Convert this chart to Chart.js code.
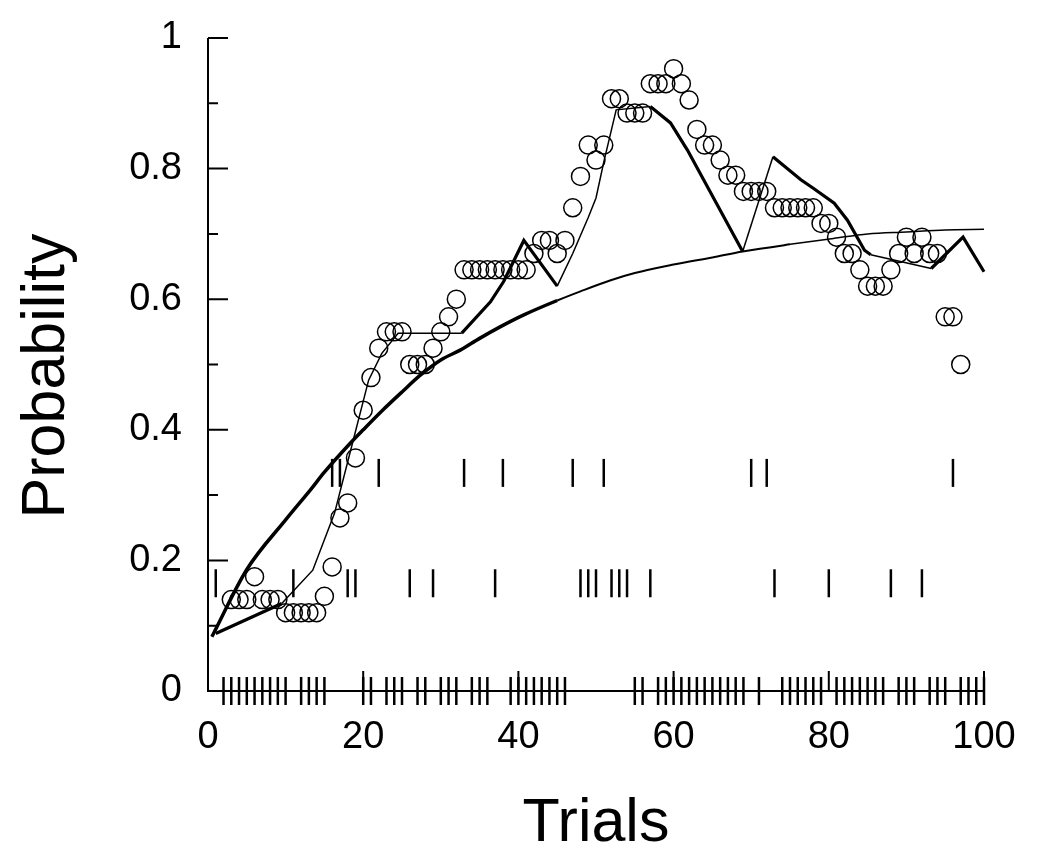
<!DOCTYPE html>
<html>
<head>
<meta charset="utf-8">
<script src="https://cdn.jsdelivr.net/npm/chart.js@4/dist/chart.umd.min.js"></script>
<style>
  html, body { margin: 0; padding: 0; background: #fff; }
  #wrap { width: 1050px; height: 867px; }
</style>
</head>
<body>
<div id="wrap"><canvas id="probChart"></canvas></div>
<script>
// observed proportion per trial (open circles)
const circleTrials = [3, 4, 5, 6, 7, 8, 9, 10, 11, 12, 13, 14, 15, 16, 17, 18, 19, 20, 21, 22, 23, 24, 25,
  26, 27, 28, 29, 30, 31, 32, 33, 34, 35, 36, 37, 38, 39, 40, 41, 42, 43, 44, 45, 46, 47, 48, 49, 50,
  51, 52, 53, 54, 55, 56, 57, 58, 59, 60, 61, 62, 63, 64, 65, 66, 67, 68, 69, 70, 71, 72, 73, 74, 75,
  76, 77, 78, 79, 80, 81, 82, 83, 84, 85, 86, 87, 88, 89, 90, 91, 92, 93, 94, 95, 96, 97];
const circleProb = [0.14, 0.14, 0.14, 0.175, 0.14, 0.14, 0.14,
  0.12, 0.12, 0.12, 0.12, 0.12, 0.145, 0.19,
  0.265, 0.288, 0.357, 0.43, 0.48, 0.525, 0.55, 0.55, 0.55,
  0.50, 0.50, 0.50, 0.525, 0.55, 0.573, 0.60,
  0.645, 0.645, 0.645, 0.645, 0.645, 0.645, 0.645, 0.645, 0.645,
  0.67, 0.69, 0.69, 0.67, 0.69, 0.74, 0.788, 0.836, 0.813,
  0.836, 0.907, 0.907, 0.885, 0.885, 0.885, 0.93, 0.93, 0.93, 0.953,
  0.93, 0.905, 0.86, 0.836, 0.836, 0.813, 0.79, 0.79, 0.765, 0.765,
  0.765, 0.765, 0.74, 0.74, 0.74, 0.74, 0.74, 0.74, 0.716, 0.716,
  0.695, 0.67, 0.67, 0.645, 0.62, 0.62, 0.62, 0.645, 0.67, 0.695,
  0.67, 0.695, 0.67, 0.67, 0.573, 0.573, 0.50];

// jagged model line
const jagX = [1, 9.5, 13.5, 16.3, 18.5, 20.7, 22.4, 24.5, 32.7, 36.4, 38.1, 40.7, 45, 47, 49, 50, 51, 52.6,
  57, 59.6, 61.8, 68.9, 72.8, 76.4, 78, 80.7, 82.4, 84.6, 85.4, 93.2, 97.3, 100];
const jagY = [0.088, 0.134, 0.185, 0.272, 0.374, 0.476, 0.517, 0.548, 0.548, 0.596, 0.627, 0.69, 0.62, 0.67,
  0.725, 0.755, 0.81, 0.89, 0.895, 0.87, 0.828, 0.673, 0.818, 0.783, 0.77, 0.747, 0.721, 0.675, 0.668,
  0.647, 0.695, 0.642];

// smooth learning curve
const fitX = [0.5, 5, 10, 13.2, 15, 18.3, 20, 22.5, 25, 27.4, 30, 32.5, 35, 37.7, 40.7, 45, 48, 51.9,
  55, 60, 65, 68.9, 75, 80.6, 85, 90, 95, 100];
const fitY = [0.083, 0.186, 0.262, 0.308, 0.335, 0.379, 0.40, 0.43, 0.458, 0.484, 0.507, 0.522, 0.54,
  0.558, 0.576, 0.598, 0.612, 0.629, 0.64, 0.653, 0.664, 0.673, 0.684, 0.693, 0.70, 0.703, 0.706, 0.707];

// response markers, one row per response type
const rugLowTrials = [2, 3, 4, 5, 6, 7, 8, 9, 10, 12, 13, 14, 15, 20, 21, 23, 24, 25, 27, 28, 30, 31, 32,
  34, 35, 36, 39, 40, 41, 42, 43, 44, 45, 46, 55, 56, 58, 59, 60, 61, 62, 63, 64, 65, 66, 67, 68, 69,
  71, 74, 75, 76, 77, 78, 79, 81, 82, 83, 84, 85, 86, 87, 89, 90, 91, 93, 94, 95, 97, 98, 99, 100];
const rugMidTrials = [1, 11, 18, 19, 26, 29, 37, 48, 49, 50, 52, 53, 54, 57, 73, 80, 88, 92];
const rugHighTrials = [16, 17, 22, 33, 38, 47, 51, 70, 72, 96];
const rugLevels = [0, 0.165, 0.334];

const fontFamily = '"Liberation Sans", Arial, sans-serif';
const thickJagSegments = [0, 8, 9, 10, 11, 18, 19, 20, 22, 23, 24, 25, 26, 27, 29, 30];

function toPoints(xs, ys) {
  return xs.map((x, i) => ({ x: x, y: ys[i] }));
}

function rugPoints(trials, level) {
  return trials.map(t => ({ x: t, y: level }));
}

function rugDataset(trials, level) {
  return {
    type: 'scatter',
    data: rugPoints(trials, level),
    pointStyle: 'line',
    rotation: 90,
    radius: 14,
    borderWidth: 2.5,
    borderColor: '#000',
    clip: false
  };
}

// axis lines, inward ticks and the vertical axis title
const axesPlugin = {
  id: 'axesPlugin',
  afterDatasetsDraw(chart) {
    const ctx = chart.ctx;
    const xs = chart.scales.x;
    const ys = chart.scales.y;
    const left = xs.getPixelForValue(0);
    const right = xs.getPixelForValue(100);
    const bottom = ys.getPixelForValue(0);
    const top = ys.getPixelForValue(1);
    ctx.save();
    ctx.strokeStyle = '#000';
    ctx.lineWidth = 2;
    ctx.beginPath();
    ctx.moveTo(left, top);
    ctx.lineTo(left, bottom);
    ctx.lineTo(right, bottom);
    for (let i = 1; i <= 10; i++) {
      const y = ys.getPixelForValue(i / 10);
      const len = i % 2 === 0 ? 20 : 10;
      ctx.moveTo(left, y);
      ctx.lineTo(left + len, y);
    }
    for (let v = 20; v <= 100; v += 20) {
      const x = xs.getPixelForValue(v);
      ctx.moveTo(x, bottom);
      ctx.lineTo(x, bottom - 20);
    }
    ctx.stroke();

    ctx.translate(47, 376);
    ctx.rotate(-Math.PI / 2);
    ctx.fillStyle = '#000';
    ctx.font = '61px ' + fontFamily;
    ctx.textAlign = 'center';
    ctx.textBaseline = 'middle';
    ctx.fillText('Probability', 0, 0);
    ctx.restore();
  }
};

const ctx = document.getElementById('probChart').getContext('2d');
new Chart(ctx, {
  type: 'scatter',
  data: {
    datasets: [
      {
        type: 'line',
        data: toPoints(jagX, jagY),
        borderColor: '#000',
        borderWidth: 1.5,
        pointRadius: 0,
        fill: false,
        clip: false,
        segment: {
          borderWidth: c => thickJagSegments.includes(c.p0DataIndex) ? 3.2 : 1.5
        }
      },
      {
        type: 'line',
        data: toPoints(fitX, fitY),
        borderColor: '#000',
        borderWidth: 2,
        pointRadius: 0,
        fill: false,
        clip: false,
        cubicInterpolationMode: 'monotone',
        segment: {
          borderWidth: c => c.p0.parsed.x < 42 ? 3.5 : (c.p0.parsed.x < 70 ? 2 : 1.5)
        }
      },
      {
        type: 'scatter',
        data: toPoints(circleTrials, circleProb),
        pointStyle: 'circle',
        radius: 9,
        borderWidth: 1.5,
        borderColor: '#000',
        backgroundColor: 'rgba(0,0,0,0)',
        clip: false
      },
      rugDataset(rugLowTrials, rugLevels[0]),
      rugDataset(rugMidTrials, rugLevels[1]),
      rugDataset(rugHighTrials, rugLevels[2])
    ]
  },
  plugins: [axesPlugin],
  options: {
    responsive: true,
    maintainAspectRatio: false,
    animation: false,
    events: [],
    layout: { padding: { top: 38, right: 66, left: 0, bottom: 0 } },
    plugins: {
      legend: { display: false },
      tooltip: { enabled: false }
    },
    scales: {
      x: {
        type: 'linear',
        min: 0,
        max: 100,
        afterFit: s => { s.height = 176; s.paddingLeft = 0; s.paddingRight = 0; },
        grid: { display: false, drawTicks: false },
        border: { display: false },
        ticks: { stepSize: 20, color: '#000', padding: 24, font: { size: 38, family: fontFamily } },
        title: {
          display: true,
          text: 'Trials',
          color: '#000',
          font: { size: 61, family: fontFamily },
          padding: { top: 0, bottom: 6 }
        }
      },
      y: {
        type: 'linear',
        min: 0,
        max: 1,
        afterFit: s => { s.width = 208; s.paddingTop = 0; s.paddingBottom = 0; },
        grid: { display: false, drawTicks: false },
        border: { display: false },
        ticks: {
          stepSize: 0.2,
          color: '#000',
          padding: 26,
          font: { size: 38, family: fontFamily },
          callback: v => String(Number(v.toFixed(1)))
        }
      }
    }
  }
});
</script>
</body>
</html>
